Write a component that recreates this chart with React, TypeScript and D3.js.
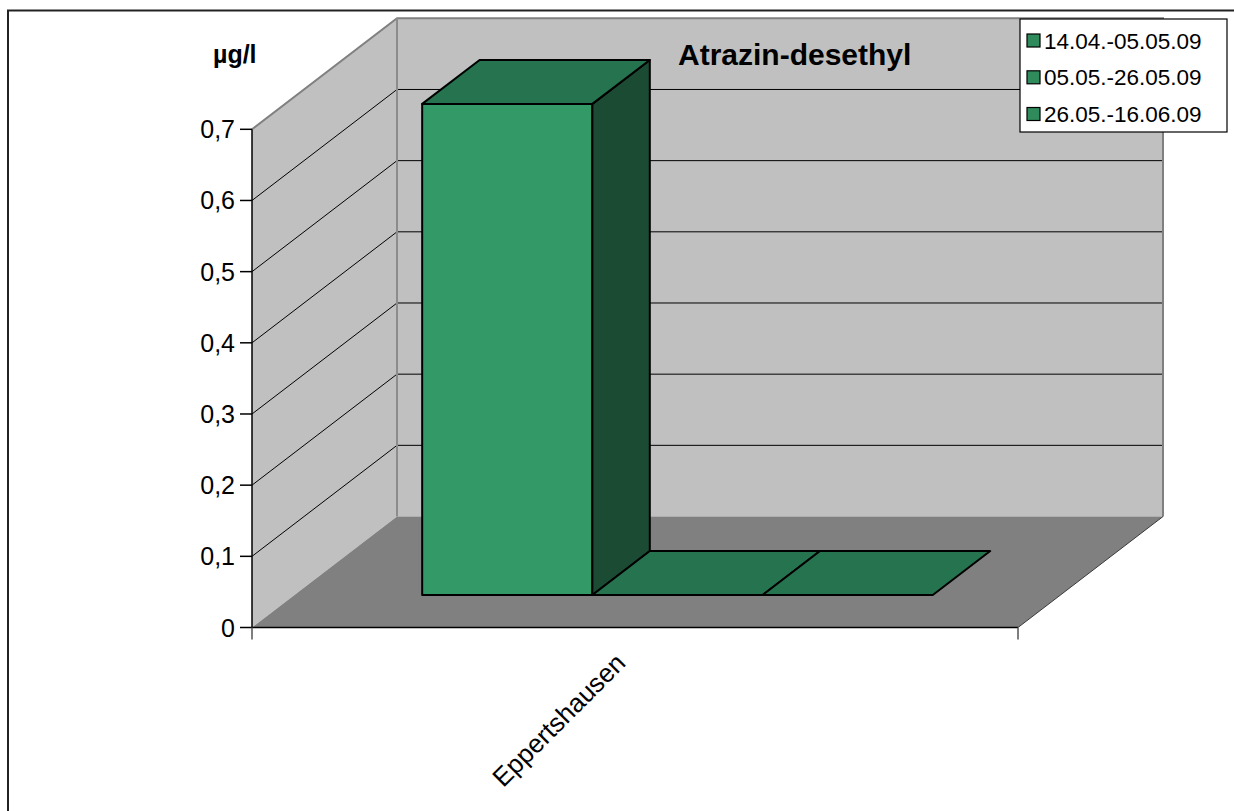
import React from "react";
import * as d3 from "d3";

const categories = ["Eppertshausen"];
const seriesNames = ["14.04.-05.05.09", "05.05.-26.05.09", "26.05.-16.06.09"];
const seriesValues = [[0.69], [0], [0]];
const yTicks = [0, 0.1, 0.2, 0.3, 0.4, 0.5, 0.6, 0.7];
const chartTitle = "Atrazin-desethyl";
const unitLabel = "µg/l";

const W = 1234;
const H = 811;
const FONT = "Arial, 'Liberation Sans', Helvetica, sans-serif";

export default function App() {
  const x0 = 252, x1 = 1018;
  const DX = 145, DY = 111;
  const y = d3.scaleLinear().domain([0, 0.7]).range([627.5, 129.3]);
  const xCat = d3.scaleBand<string>().domain(categories).range([x0, x1]).padding(0);
  const zFront = 0.293, zBack = 0.689;
  const P = (xf: number, v: number, z: number): [number, number] => [xf + z * DX, y(v) - z * DY];
  const pts = (arr: [number, number][]) => arr.map((p) => p.join(",")).join(" ");
  const fmt = (v: number) => d3.format(".1f")(v).replace(".", ",").replace(/^0,0$/, "0");

  const wallTop = y(0.7);
  const wallBot = y(0);

  const bars: JSX.Element[] = [];
  categories.forEach((c, ci) => {
    const bs = xCat(c)!;
    const bw = xCat.bandwidth();
    const gap = bw * 0.1667;
    const xs = d3.scaleBand<string>().domain(seriesNames).range([bs + gap, bs + bw - gap]).padding(0);
    seriesNames.forEach((s, si) => {
      const v = seriesValues[si][ci];
      const xa = xs(s)!;
      const xb = xa + xs.bandwidth();
      const front = [P(xa, 0, zFront), P(xb, 0, zFront), P(xb, v, zFront), P(xa, v, zFront)] as [number, number][];
      const top = [P(xa, v, zFront), P(xb, v, zFront), P(xb, v, zBack), P(xa, v, zBack)] as [number, number][];
      const side = [P(xb, 0, zFront), P(xb, 0, zBack), P(xb, v, zBack), P(xb, v, zFront)] as [number, number][];
      bars.push(
        <g key={s + c}>
          {v > 0 && <polygon points={pts(front)} fill="#339966" stroke="#000" strokeWidth={2} strokeLinejoin="round" />}
          {v > 0 && <polygon points={pts(side)} fill="#1c4b34" stroke="#000" strokeWidth={2} strokeLinejoin="round" />}
          <polygon points={pts(top)} fill="#26734f" stroke="#000" strokeWidth={2} strokeLinejoin="round" />
        </g>
      );
    });
  });

  const legendRows = [40.5, 77.3, 114];

  return (
    <svg width={W} height={H} style={{ position: "absolute", left: 0, top: 0, background: "#fff" }} fontFamily={FONT}>
      <rect x={0} y={0} width={W} height={H} fill="#fff" />
      {/* outer frame */}
      <path d={`M8,${H + 5} L8,10.5 L${W + 5},10.5`} fill="none" stroke="#222" strokeWidth={2} />

      {/* left wall */}
      <polygon points={pts([[x0, wallTop], [x0 + DX, wallTop - DY], [x0 + DX, wallBot - DY], [x0, wallBot]])} fill="#c0c0c0" />
      {/* back wall */}
      <polygon points={pts([[x0 + DX, wallTop - DY], [x1 + DX, wallTop - DY], [x1 + DX, wallBot - DY], [x0 + DX, wallBot - DY]])} fill="#c0c0c0" />
      {/* floor */}
      <polygon points={pts([[x0, wallBot], [x0 + DX, wallBot - DY], [x1 + DX, wallBot - DY], [x1, wallBot]])} fill="#808080" />

      {/* gridlines */}
      {yTicks.filter((t) => t > 0 && t < 0.7).map((t) => (
        <g key={"g" + t}>
          <line x1={x0} y1={y(t)} x2={x0 + DX} y2={y(t) - DY} stroke="#000" strokeWidth={1} />
          <line x1={x0 + DX} y1={y(t) - DY} x2={x1 + DX} y2={y(t) - DY} stroke="#000" strokeWidth={1} />
        </g>
      ))}

      {/* wall edges */}
      <path d={`M${x0},${wallTop} L${x0 + DX},${wallTop - DY} L${x1 + DX},${wallTop - DY} L${x1 + DX},${wallBot - DY}`} fill="none" stroke="#808080" strokeWidth={2} />
      <line x1={x0 + DX} y1={wallTop - DY} x2={x0 + DX} y2={wallBot - DY} stroke="#8c8c8c" strokeWidth={2} />
      <line x1={x1} y1={wallBot} x2={x1 + DX} y2={wallBot - DY} stroke="#3a3a3a" strokeWidth={1} />

      {bars}

      {/* axes */}
      <line x1={x0} y1={wallTop} x2={x0} y2={wallBot} stroke="#000" strokeWidth={1.5} />
      <line x1={x0} y1={wallBot} x2={x1} y2={wallBot} stroke="#000" strokeWidth={1.5} />
      {yTicks.map((t) => (
        <g key={"t" + t}>
          <line x1={x0 - 12} y1={y(t)} x2={x0} y2={y(t)} stroke="#000" strokeWidth={1.5} />
          <text x={x0 - 17} y={y(t) + 9} textAnchor="end" fontSize={25} fill="#000">{fmt(t)}</text>
        </g>
      ))}
      {[x0, x1].map((xx) => (
        <line key={"xt" + xx} x1={xx} y1={wallBot} x2={xx} y2={wallBot + 12} stroke="#555" strokeWidth={1.5} />
      ))}
      {categories.map((c) => {
        const cx = xCat(c)! + xCat.bandwidth() / 2;
        return (
          <text key={c} transform={`translate(${cx - 8},${wallBot + 37}) rotate(-45)`} textAnchor="end" fontSize={26} fill="#000">{c}</text>
        );
      })}

      {/* titles */}
      <text x={213} y={63} fontSize={25} fontWeight="bold" fill="#000">{unitLabel}</text>
      <text x={678} y={65} fontSize={30} fontWeight="bold" fill="#000">{chartTitle}</text>

      {/* legend */}
      <rect x={1020} y={19} width={207} height={113} fill="#fff" stroke="#000" strokeWidth={1.2} />
      {seriesNames.map((s, i) => (
        <g key={"l" + s}>
          <rect x={1027} y={legendRows[i] - 6.5} width={13} height={13} fill="#2f8a5c" stroke="#000" strokeWidth={1.2} />
          <text x={1044} y={legendRows[i] + 8} fontSize={22.5} fill="#000">{s}</text>
        </g>
      ))}
    </svg>
  );
}
